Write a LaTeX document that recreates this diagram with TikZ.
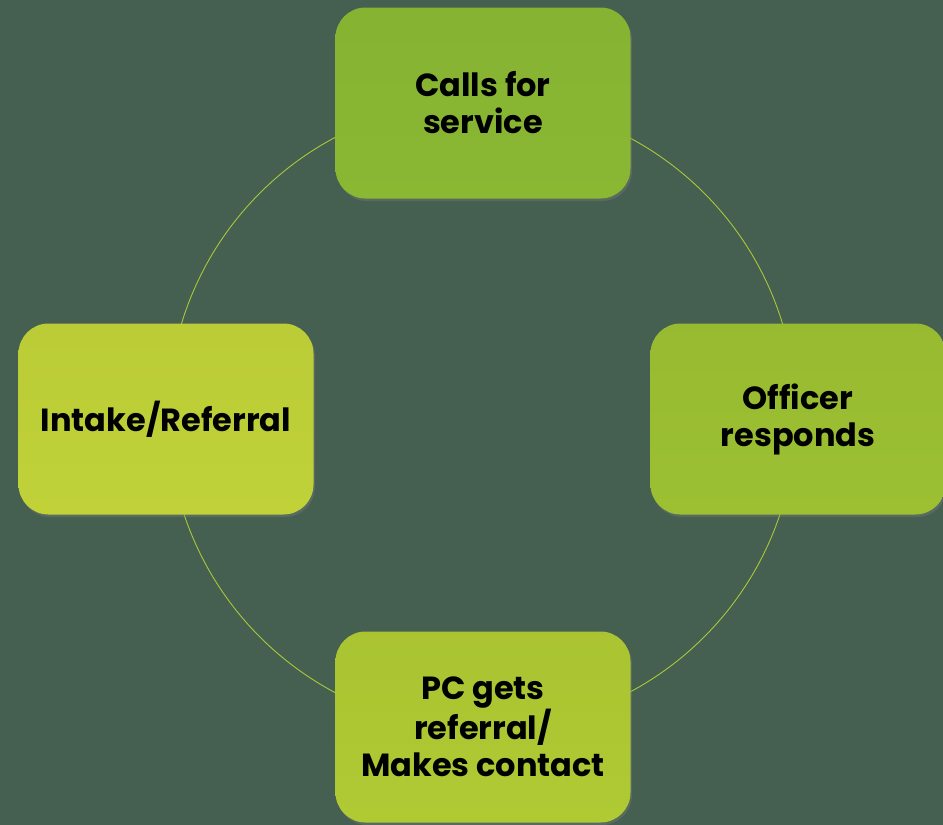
\documentclass[tikz,border=0pt]{standalone}
\usepackage{fontspec}
\setmainfont{Poppins}
\usepackage{tikz}
\usetikzlibrary{shadows}
\definecolor{slate}{HTML}{455F50}
\definecolor{ringline}{HTML}{A9C83A}
\definecolor{greenA}{HTML}{8AB833}
\definecolor{greenB}{HTML}{9CC032}
\definecolor{greenC}{HTML}{AFCA33}
\definecolor{greenD}{HTML}{C0D238}
\tikzstyle{stage} = [rectangle, rounded corners=30pt, minimum width=295pt, minimum height=191pt, inner sep=0pt, align=center, text=black, font=\fontsize{32}{37}\selectfont\bfseries, drop shadow={opacity=0.35, shadow xshift=1.5pt, shadow yshift=-2.5pt}]
\tikzstyle{ring} = [ringline, line width=0.9pt]

\begin{document}
\begin{tikzpicture}[x=1pt, y=-1pt]
\fill[slate] (0,0) rectangle (943,825);
\useasboundingbox (0,0) rectangle (943,825);
\coordinate (hub) at (482,415);
\draw [ring] (hub) circle (314pt);
\node (calls) [stage, top color=greenA!97!black, bottom color=greenA] at (483,103) {Calls for\\service};
\node (officer) [stage, top color=greenB!97!black, bottom color=greenB] at (798,419) {Officer\\responds};
\node (contact) [stage, top color=greenC!97!black, bottom color=greenC] at (483,727) {PC gets\\referral/\\Makes contact};
\node (intake) [stage, top color=greenD!97!black, bottom color=greenD] at (166,419) {Intake/Referral};
\end{tikzpicture}
\end{document}
